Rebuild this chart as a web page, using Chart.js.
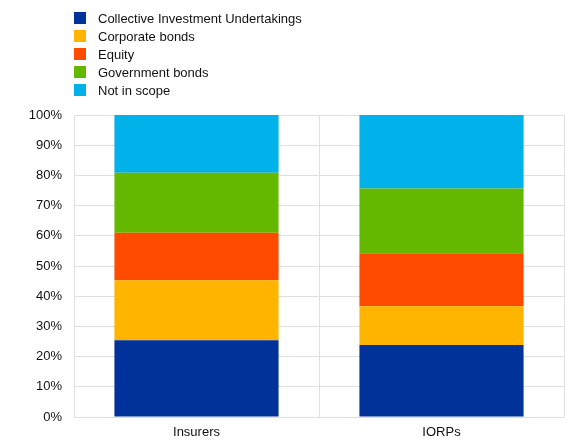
<!DOCTYPE html>
<html>
<head>
<meta charset="utf-8">
<script src="https://cdn.jsdelivr.net/npm/chart.js@4"></script>
<style>
  body { margin: 0; background: #fff; }
  #wrap { position: relative; width: 565px; height: 441px; }
  #legend { position: absolute; left: 74px; top: 9px; font: 13px "Liberation Sans", Arial, sans-serif; color: #111; }
  .row { height: 18px; display: flex; align-items: center; }
  .box { width: 12px; height: 12px; margin-right: 12px; }
</style>
</head>
<body>
<div id="wrap">
  <canvas id="myChart" width="565" height="441"></canvas>
  <div id="legend"></div>
</div>
<script>
const categories = ["Insurers", "IORPs"];
const seriesNames = ["Collective Investment Undertakings", "Corporate bonds", "Equity", "Government bonds", "Not in scope"];
const ciu = [25.4, 23.8];
const corporate = [19.9, 12.9];
const equity = [15.7, 17.5];
const government = [19.9, 21.5];
const notInScope = [19.1, 24.3];
const colors = ["#003299", "#ffb400", "#ff4b00", "#65b800", "#00b1ea"];

const values = [ciu, corporate, equity, government, notInScope];

// html legend, one item per line
const legend = document.getElementById("legend");
seriesNames.forEach((name, i) => {
  const row = document.createElement("div");
  row.className = "row";
  row.innerHTML = `<span class="box" style="background:${colors[i]}"></span><span>${name}</span>`;
  legend.appendChild(row);
});

const ctx = document.getElementById("myChart").getContext("2d");
const font = { family: "'Liberation Sans', Arial, sans-serif", size: 13 };

const myChart = new Chart(ctx, {
  type: "bar",
  data: {
    labels: categories,
    datasets: seriesNames.map((name, i) => ({
      label: name,
      data: values[i],
      backgroundColor: colors[i],
      borderWidth: 0,
      barPercentage: 0.67,
      categoryPercentage: 1,
    })),
  },
  options: {
    responsive: false,
    animation: false,
    layout: { padding: { top: 115, right: 1, left: 0, bottom: 0 } },
    plugins: { legend: { display: false }, tooltip: { enabled: false } },
    scales: {
      x: {
        stacked: true,
        grid: { color: "#e0e0e0", drawTicks: false, offset: true },
        border: { color: "#e0e0e0" },
        ticks: { color: "#111", font: font, padding: 8 },
        afterFit: (scale) => { scale.height = 24; },
      },
      y: {
        stacked: true,
        min: 0,
        max: 100,
        grid: { color: "#e0e0e0", drawTicks: false },
        border: { color: "#e0e0e0" },
        ticks: { stepSize: 10, color: "#111", font: font, padding: 12, callback: (v) => v + "%" },
        afterFit: (scale) => { scale.width = 74; },
      },
    },
  },
});
</script>
</body>
</html>
